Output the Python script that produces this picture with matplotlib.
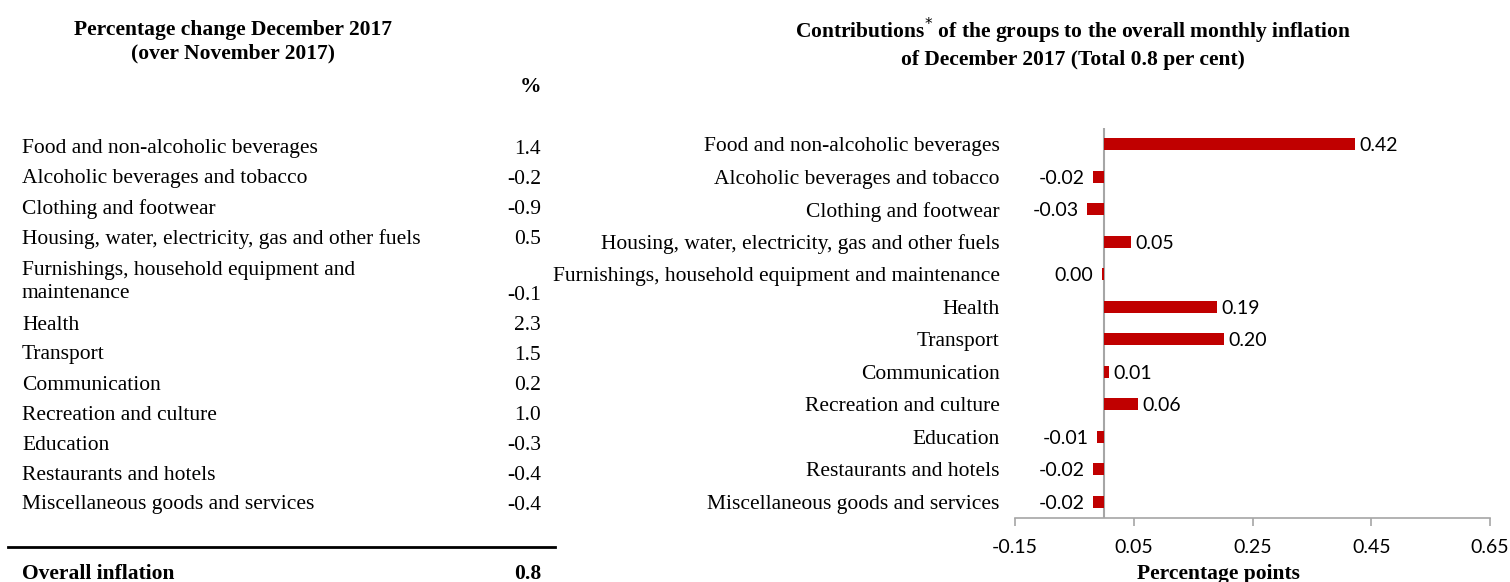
import matplotlib
matplotlib.use('Agg')
import matplotlib.pyplot as plt

# groups (left table + right chart share the same order)
groups = [
    "Food and non-alcoholic beverages",
    "Alcoholic beverages and tobacco",
    "Clothing and footwear",
    "Housing, water, electricity, gas and other fuels",
    "Furnishings, household equipment and maintenance",
    "Health",
    "Transport",
    "Communication",
    "Recreation and culture",
    "Education",
    "Restaurants and hotels",
    "Miscellaneous goods and services",
]
# left table: monthly % change
pct_change = ["1.4", "-0.2", "-0.9", "0.5", "-0.1", "2.3", "1.5", "0.2", "1.0", "-0.3", "-0.4", "-0.4"]
overall = "0.8"
# right chart: contributions in percentage points
contrib = [0.423, -0.018, -0.028, 0.046, -0.004, 0.190, 0.202, 0.008, 0.057, -0.012, -0.018, -0.018]
xticks = [-0.15, 0.05, 0.25, 0.45, 0.65]

SERIF = "Liberation Serif"
SANS = "Lato"
RED = "#c00000"
GREY = "#a6a6a6"
FS = 15.5
FS_NUM = 14

W, H = 1510, 582
fig = plt.figure(figsize=(W / 100, H / 100), dpi=100)

def px(x, y):
    return x / W, 1 - y / H

# ---- left: table ----
fig.text(*px(233, 42), "Percentage change December 2017\n(over November 2017)", ha='center', va='center',
         family=SERIF, fontsize=FS, fontweight='bold', linespacing=1.2)
fig.text(*px(541, 87), "%", ha='right', va='center', family=SERIF, fontsize=FS, fontweight='bold')

row_y = [149, 179, 209, 239, 282, 325, 355, 385, 415, 445, 475, 505]
for name, val, y in zip(groups, pct_change, row_y):
    label = name
    vy = y
    if name.startswith("Furnishings"):
        label = "Furnishings, household equipment and\nmaintenance"
        vy = 295
    fig.text(*px(22, y), label, ha='left', va='center', family=SERIF, fontsize=FS, linespacing=1.35)
    fig.text(*px(541, vy), val, ha='right', va='center', family=SERIF, fontsize=FS)

fig.add_artist(plt.Line2D([8 / W, 555 / W], [1 - 547 / H] * 2, color='black', lw=2))
fig.text(*px(22, 574), "Overall inflation", ha='left', va='center', family=SERIF, fontsize=FS, fontweight='bold')
fig.text(*px(541, 574), overall, ha='right', va='center', family=SERIF, fontsize=FS, fontweight='bold')

# ---- right: bar chart ----
ax = fig.add_axes([1015 / W, 1 - 518 / H, 475 / W, 390 / H])
pos = list(range(len(groups)))
ax.barh(pos, contrib, height=0.38, color=RED, zorder=4)
ax.set_ylim(len(groups) - 0.5, -0.5)
ax.set_xlim(xticks[0], xticks[-1])
ax.set_xticks(xticks)
ax.set_xticklabels([f"{t:.2f}" for t in xticks], family=SANS, fontsize=FS_NUM)
ax.set_yticks(pos)
ax.set_yticklabels(groups, family=SERIF, fontsize=FS, va='center_baseline')
ax.tick_params(axis='y', length=0, pad=11)
ax.tick_params(axis='x', length=6, color=GREY, width=1.2, pad=9)
for s in ['top', 'right', 'left']:
    ax.spines[s].set_visible(False)
ax.spines['bottom'].set_color(GREY)
ax.spines['bottom'].set_linewidth(1.2)
ax.axvline(0, color=GREY, lw=1.5, zorder=3)

for p, v in zip(pos, contrib):
    lab = f"{v:.2f}".replace("-0.00", "0.00")
    if v >= 0:
        ax.annotate(lab, (v, p), xytext=(3, 0), textcoords='offset points', ha='left',
                    va='center_baseline', family=SANS, fontsize=FS_NUM)
    else:
        ax.annotate(lab, (v, p), xytext=(-6, 0), textcoords='offset points', ha='right',
                    va='center_baseline', family=SANS, fontsize=FS_NUM)

fig.text(*px(1073, 43), "Contributions$^{*}$ of the groups to the overall monthly inflation\nof December 2017 (Total 0.8 per cent)",
         ha='center', va='center', family=SERIF, fontsize=FS, fontweight='bold', linespacing=1.25)
fig.text(*px(1218, 574), "Percentage points", ha='center', va='center', family=SERIF, fontsize=FS, fontweight='bold')

fig.savefig('out.png', dpi=100)
